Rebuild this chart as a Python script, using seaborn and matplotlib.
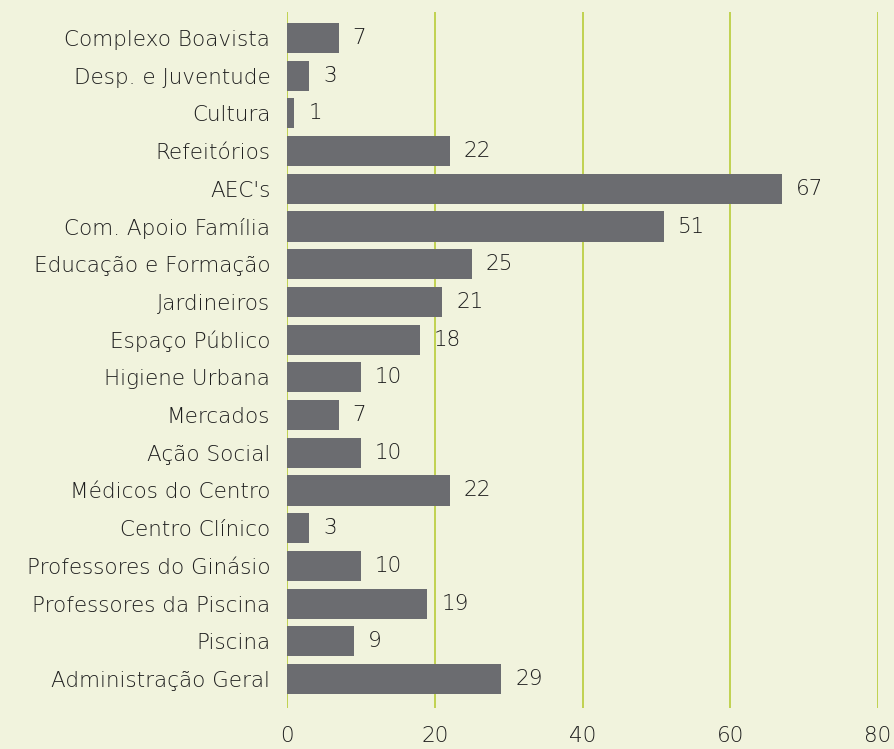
import matplotlib
matplotlib.use("Agg")
import matplotlib.pyplot as plt
import seaborn as sns
import pandas as pd

# --- data ---
categories = [
    "Complexo Boavista", "Desp. e Juventude", "Cultura", "Refeitórios", "AEC's",
    "Com. Apoio Família", "Educação e Formação", "Jardineiros", "Espaço Público",
    "Higiene Urbana", "Mercados", "Ação Social", "Médicos do Centro",
    "Centro Clínico", "Professores do Ginásio", "Professores da Piscina",
    "Piscina", "Administração Geral",
]
values = [7, 3, 1, 22, 67, 51, 25, 21, 18, 10, 7, 10, 22, 3, 10, 19, 9, 29]
x_ticks = [0, 20, 40, 60, 80]

bg = "#f1f3dd"
bar_col = "#6b6c70"
grid_col = "#b8cc38"
txt_col = "#1e1e1e"

df = pd.DataFrame({"cat": categories, "val": values})

sns.set_style("white")
plt.rcParams['font.family'] = ['DejaVu Sans']

fig = plt.figure(figsize=(8.95, 7.49), dpi=100, facecolor=bg)
ax = fig.add_axes([0.3207, 0.0547, 0.981 - 0.3207, 0.984 - 0.0547])
ax.set_facecolor(bg)

sns.barplot(data=df, x="val", y="cat", color=bar_col, saturation=1,
            width=0.8, linewidth=0, ax=ax, zorder=3)

for i, v in enumerate(values):
    ax.text(v + 1.9, i, str(v), va="center", ha="left",
            fontsize=15.5, color=txt_col, fontweight="light", zorder=4)

ax.set_xlim(0, 80)
ax.set_ylim(17.77, -0.69)
ax.set_xticks(x_ticks)
ax.xaxis.grid(True, color=grid_col, linewidth=1.2, zorder=0)
ax.set_axisbelow(True)
for s in ax.spines.values():
    s.set_visible(False)
ax.tick_params(axis="both", length=0, labelsize=15.5, labelcolor=txt_col)
ax.tick_params(axis="x", pad=13)
ax.tick_params(axis="y", pad=12)
for lbl in ax.get_xticklabels() + ax.get_yticklabels():
    lbl.set_fontweight("light")
ax.set_xlabel("")
ax.set_ylabel("")

fig.savefig("out.png", dpi=100, facecolor=bg)
